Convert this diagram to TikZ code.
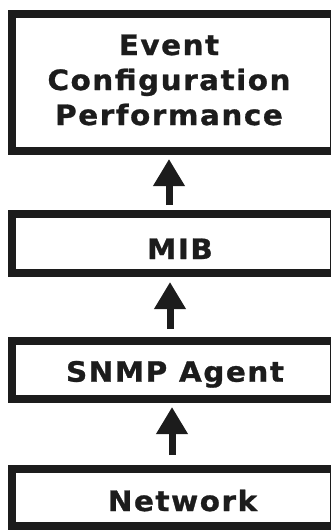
\documentclass[tikz,border=0pt]{standalone}
\usepackage{fontspec}
\usetikzlibrary{arrows.meta}
\newfontfamily\boxfont{DejaVu Sans}[LetterSpace=5.5,FakeStretch=1.05,FakeBold=1]
\definecolor{ink}{HTML}{1C1C1C}
\begin{document}
\begin{tikzpicture}[x=1pt,y=-1pt,
  box/.style={draw=ink, line width=8pt, fill=white, inner sep=0pt, outer sep=0pt, minimum width=322pt},
  lbl/.style={inner sep=0pt, outer sep=0pt, text=ink, font=\boxfont\bfseries\fontsize{28}{35}\selectfont},
  arr/.style={draw=ink, line width=7pt, -{Triangle[width=30pt,length=27pt]}, ink}]
\useasboundingbox (0,0) rectangle (331,530);
\fill[white] (0,0) rectangle (331,530);
\clip (0,0) rectangle (331,530);
\node[box, minimum height=137.5pt] (event) at (173,82.25) {};
\node[box, minimum height=58.5pt] (mib) at (173,243.25) {};
\node[box, minimum height=58pt] (snmp) at (173,370) {};
\node[box, minimum height=57.5pt] (net) at (173,497.25) {};
\node[lbl, align=center, anchor=north] (tevent) at (169,34.6) {Event\\Configuration\\Performance};
\node[lbl, anchor=base] (tmib) at (180,259) {MIB};
\node[lbl, anchor=base] (tsnmp) at (175,381.7) {SNMP Agent};
\node[lbl, anchor=base] (tnet) at (182.5,511) {Network};
\coordinate (x1) at (169,0);
\coordinate (x2) at (170,0);
\coordinate (x3) at (172,0);
\draw[arr, shorten <=9pt, shorten >=8pt] (mib.north -| x1) -- (event.south -| x1);
\draw[arr, shorten <=12pt, shorten >=9.5pt] (snmp.north -| x2) -- (mib.south -| x2);
\draw[arr, shorten <=13.5pt, shorten >=8pt] (net.north -| x3) -- (snmp.south -| x3);
\end{tikzpicture}
\end{document}
